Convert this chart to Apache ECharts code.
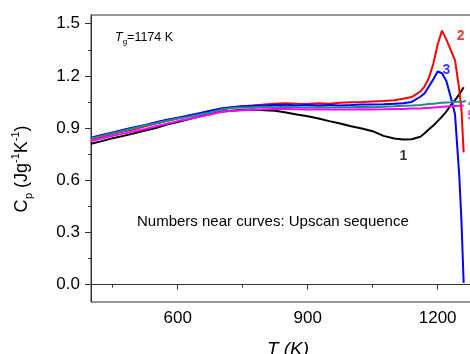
<!DOCTYPE html>
<html>
<head>
<meta charset="utf-8">
<script src="https://cdn.jsdelivr.net/npm/echarts@6/dist/echarts.min.js"></script>
<style>
html,body{margin:0;padding:0;background:#fff;}
#c{width:470px;height:354px;}
</style>
</head>
<body>
<div id="c"></div>
<script>
// ---- data ----
var temps = [400,425,450,475,500,525,550,575,600,625,650,675,700,725,750,775,800,825,850,875,900,925,950,975,1000,1025,1050,1075,1100,1120,1140,1160,1170,1180,1190,1200,1210,1220,1230,1240,1250,1255,1260,1265];
var scan1 = [0.81,0.825,0.842,0.855,0.87,0.886,0.90,0.92,0.935,0.95,0.966,0.98,0.995,1.0,1.005,1.006,1.003,1.0,0.99,0.978,0.968,0.955,0.94,0.926,0.91,0.898,0.882,0.855,0.84,0.834,0.836,0.85,0.87,0.893,0.915,0.94,0.966,0.995,1.03,1.06,1.095,1.115,1.135,null];
var scan2 = [0.835,0.85,0.866,0.88,0.895,0.91,0.926,0.94,0.955,0.968,0.98,0.996,1.01,1.02,1.026,1.03,1.036,1.04,1.043,1.04,1.038,1.043,1.04,1.046,1.048,1.05,1.053,1.055,1.06,1.068,1.078,1.11,1.14,1.19,1.27,1.38,1.46,1.41,1.35,1.29,1.12,1.0,0.76,null];
var scan3 = [0.845,0.86,0.875,0.89,0.905,0.918,0.933,0.948,0.96,0.972,0.986,1.0,1.012,1.02,1.025,1.028,1.03,1.032,1.034,1.03,1.032,1.03,1.033,1.03,1.032,1.035,1.035,1.037,1.04,1.043,1.05,1.08,1.10,1.14,1.18,1.225,1.215,1.17,1.08,0.98,0.62,0.36,0.01,null];
var scan4 = [0.84,0.855,0.87,0.885,0.90,0.915,0.928,0.942,0.955,0.965,0.978,0.99,1.005,1.015,1.018,1.02,1.022,1.02,1.022,1.019,1.018,1.021,1.018,1.02,1.02,1.022,1.02,1.023,1.025,1.028,1.03,1.033,1.035,1.038,1.04,1.042,1.045,1.047,1.048,1.05,1.052,1.05,1.053,1.055];
var scan5 = [0.825,0.84,0.855,0.868,0.882,0.895,0.91,0.925,0.94,0.952,0.965,0.978,0.992,1.0,1.003,1.005,1.008,1.01,1.01,1.008,1.006,1.008,1.006,1.007,1.006,1.008,1.007,1.008,1.01,1.01,1.012,1.013,1.015,1.016,1.018,1.02,1.022,1.024,1.026,1.027,1.028,1.029,1.03,null];
var xMajorTicks = [600, 900, 1200];
var xMinorTicks = [450, 750, 1050];
var yMajorTicks = [0, 0.3, 0.6, 0.9, 1.2, 1.5];
var yMinorTicks = [0.15, 0.45, 0.75, 1.05, 1.35];
var seriesNames = ['1','2','3','4','5'];
var seriesColors = ['#000000','#ff0000','#0000ff','#1a8c8c','#ff00ff'];

function pairs(arr){
  var out=[];
  for(var i=0;i<temps.length;i++){ if(arr[i]!==null && arr[i]!==undefined) out.push([temps[i],arr[i]]); }
  return out;
}
var allScans=[scan1,scan2,scan3,scan4,scan5];

var FONT='"Liberation Sans", Arial, Helvetica, sans-serif';
var mctx=document.createElement('canvas').getContext('2d');
function tw(t,fs,style){ mctx.font=(style||'normal')+' '+fs+'px '+FONT; return mctx.measureText(t).width; }

// pieces positioned by baseline offset dy; rendered with 'middle' alignment
function buildPieces(pieces, startX, fill){
  var x=startX, kids=[];
  pieces.forEach(function(p){
    kids.push({type:'text',x:x,y:p.dy-0.3*p.fs,style:{text:p.t,fontSize:p.fs,fontFamily:FONT,fontStyle:p.st,fill:fill||'#000',align:'left',verticalAlign:'middle'}});
    x+=tw(p.t,p.fs,p.st)+(p.gap||0);
  });
  return kids;
}
function totalW(pieces){ var w=0; pieces.forEach(function(p){w+=tw(p.t,p.fs,p.st)+(p.gap||0);}); return w; }

var yPieces=[
  {t:'C',fs:18,dy:0,st:'normal',gap:0.5},
  {t:'p',fs:11,dy:5,st:'normal'},
  {t:' (Jg',fs:18,dy:0,st:'normal'},
  {t:'-1',fs:11,dy:-8,st:'normal'},
  {t:'K',fs:18,dy:0,st:'normal'},
  {t:'-1',fs:11,dy:-8,st:'normal'},
  {t:')',fs:18,dy:0,st:'normal'}
];
var yTitle=buildPieces(yPieces,-totalW(yPieces)/2);

var tgPieces=[
  {t:'T',fs:12.5,dy:0,st:'italic'},
  {t:'g',fs:8,dy:3.5,st:'normal'},
  {t:'=1174 K',fs:12.5,dy:0,st:'normal'}
];
var tgText=buildPieces(tgPieces,0);

var xtPieces=[
  {t:'T',fs:19,dy:0,st:'italic'},
  {t:' (K)',fs:19,dy:0,st:'italic'}
];
var xTitle=buildPieces(xtPieces,-totalW(xtPieces)/2);

var chart=echarts.init(document.getElementById('c'),null,{renderer:'canvas'});
var axisColor='#333';
var series=allScans.map(function(s,i){
  return {name:seriesNames[i],type:'line',xAxisIndex:0,yAxisIndex:0,data:pairs(s),showSymbol:false,symbol:'none',
    lineStyle:{color:seriesColors[i],width:2},itemStyle:{color:seriesColors[i]},z:2+i,silent:true,clip:true};
});
var labelSpots=[[1121,0.74,0],[1253,1.43,1],[1220,1.235,2],[1279,1.045,3],[1278,0.97,4]];
series.push({type:'scatter',data:labelSpots.map(function(p){return {value:[p[0],p[1]],label:{color:seriesColors[p[2]],formatter:seriesNames[p[2]]}};}),
  symbolSize:0,silent:true,z:20,
  label:{show:true,position:'inside',fontSize:14,fontWeight:'bold',fontFamily:FONT}});

chart.setOption({
  animation:false,
  backgroundColor:'#fff',
  grid:{left:91,right:-11,top:15,bottom:52,show:true,borderColor:axisColor,borderWidth:1,backgroundColor:'transparent',
    containLabel:false,outerBoundsMode:'none'},
  xAxis:[{
    type:'value',min:400,max:1300,
    axisLine:{show:true,lineStyle:{color:axisColor,width:1}},
    axisTick:{show:true,inside:false,length:5,customValues:xMajorTicks,lineStyle:{color:axisColor}},
    axisLabel:{show:true,customValues:xMajorTicks,margin:8,fontSize:17,color:'#000',fontFamily:FONT,
      formatter:function(v){return String(v);}},
    splitLine:{show:false}
  },{
    type:'value',min:400,max:1300,position:'bottom',
    axisLine:{show:false},
    axisTick:{show:true,inside:false,length:3,customValues:xMinorTicks,lineStyle:{color:axisColor}},
    axisLabel:{show:false},splitLine:{show:false}
  }],
  yAxis:[{
    type:'value',min:-0.1,max:1.55,
    axisLine:{show:true,lineStyle:{color:axisColor,width:1}},
    axisTick:{show:true,inside:false,length:6,customValues:yMajorTicks,lineStyle:{color:axisColor}},
    axisLabel:{show:true,customValues:yMajorTicks,margin:11,fontSize:17,color:'#000',fontFamily:FONT,
      formatter:function(v){return v.toFixed(1);}},
    splitLine:{show:false}
  },{
    type:'value',min:-0.1,max:1.55,position:'left',
    axisLine:{show:false},
    axisTick:{show:true,inside:false,length:3,customValues:yMinorTicks,lineStyle:{color:axisColor}},
    axisLabel:{show:false},splitLine:{show:false}
  }],
  series:series,
  graphic:[
    {type:'group',x:27,y:169,rotation:Math.PI/2,children:yTitle},
    {type:'group',x:115,y:41,children:tgText},
    {type:'group',x:288,y:355,children:xTitle},
    {type:'text',x:137,y:222,style:{text:'Numbers near curves: Upscan sequence',fontSize:15,fontFamily:FONT,fill:'#000',align:'left',verticalAlign:'middle'}}
  ]
});
</script>
</body>
</html>
